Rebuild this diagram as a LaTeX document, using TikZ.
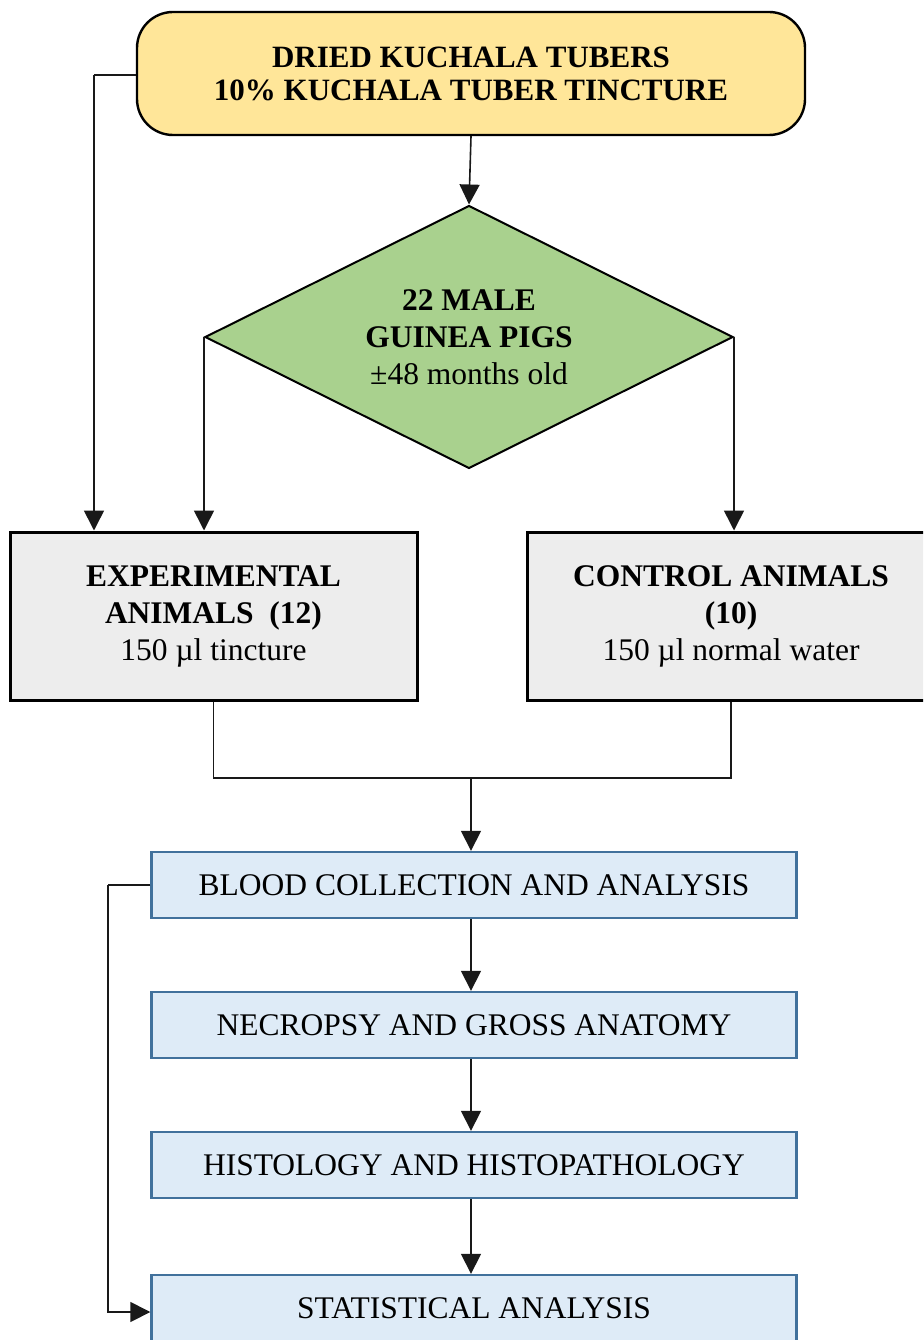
\documentclass[tikz,border=0pt]{standalone}
\usepackage{fontspec}
\setmainfont{Liberation Serif}
\usetikzlibrary{shapes.geometric,arrows.meta}
\definecolor{topfill}{HTML}{FFE699}
\definecolor{diafill}{HTML}{A9D18E}
\definecolor{greyfill}{HTML}{EDEDED}
\definecolor{bluefill}{HTML}{DEEBF7}
\definecolor{blueline}{HTML}{41719C}
\begin{document}
\begin{tikzpicture}[x=1pt,y=-1pt,
  conn/.style={line width=1.6pt, draw=black!90},
  arr/.style={conn, -{Triangle[length=20pt,width=20pt]}},
  base/.style={inner sep=0pt, align=center, font=\fontsize{31.5}{37}\selectfont},
  topbox/.style={base, draw, line width=2.4pt, fill=topfill, rounded corners=36pt,
    minimum width=668pt, minimum height=123pt, font=\fontsize{31}{33}\selectfont},
  diabox/.style={base, shape=diamond, aspect=2, draw, line width=2pt, fill=diafill,
    minimum width=528pt, minimum height=263pt},
  greybox/.style={base, draw, line width=3pt, fill=greyfill,
    minimum width=407pt, minimum height=168pt},
  bluebox/.style={base, draw=blueline, line width=2.4pt, fill=bluefill,
    minimum width=645pt, minimum height=66pt}
]
\clip (0,0) rectangle (923,1340);
\fill[white] (0,0) rectangle (923,1340);

\node[topbox] (top) at (471,73.5) {\textbf{DRIED KUCHALA TUBERS}\\\textbf{10\% KUCHALA TUBER TINCTURE}};
\node[diabox] (dia) at (469,337) {\textbf{22 MALE}\\\textbf{GUINEA PIGS}\\±48 months old};
\node[greybox] (exp) at (213.5,616) {\textbf{EXPERIMENTAL}\\\textbf{ANIMALS\ \ (12)}\\150 µl tincture};
\node[greybox] (ctl) at (731,616) {\textbf{CONTROL ANIMALS}\\\textbf{(10)}\\150 µl normal water};
\node[bluebox] (blood) at (474,885) {BLOOD COLLECTION AND ANALYSIS};
\node[bluebox] (necro) at (474,1025) {NECROPSY AND GROSS ANATOMY};
\node[bluebox] (histo) at (474,1165) {HISTOLOGY AND HISTOPATHOLOGY};
\node[bluebox] (stat) at (474,1308) {STATISTICAL ANALYSIS};

\coordinate (lt) at (94,75);
\coordinate (merge) at (471,778);
\coordinate (lb) at (108,885);

\draw[arr] (top.south -| 471,0) -- (dia.north);
\draw[conn] (top.west |- lt) -- (lt);
\draw[arr] (lt) -- (lt |- exp.north);
\draw[arr] (dia.west) -- (dia.west |- exp.north);
\draw[arr] (dia.east) -- (dia.east |- ctl.north);
\draw[conn] (exp.south) |- (merge) -| (ctl.south);
\draw[arr] (merge) -- (merge |- blood.north);
\draw[arr] (blood.south -| merge) -- (necro.north -| merge);
\draw[arr] (necro.south -| merge) -- (histo.north -| merge);
\draw[arr] (histo.south -| merge) -- (stat.north -| merge);
\draw[conn] (blood.west) -- (lb);
\draw[arr] (lb) |- (stat.west |- 0,1312);
\end{tikzpicture}
\end{document}
